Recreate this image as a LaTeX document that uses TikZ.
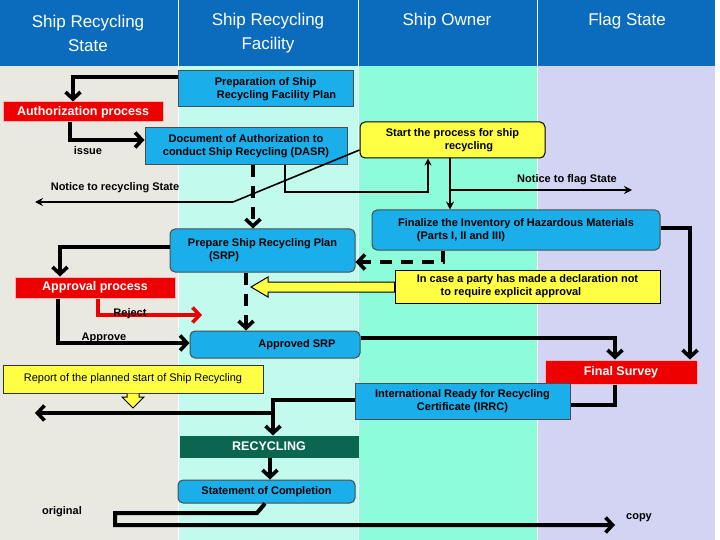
\documentclass[tikz,border=0pt]{standalone}
\usepackage{fontspec}
\setmainfont{Liberation Sans}
\usetikzlibrary{arrows.meta,positioning}
\definecolor{headblue}{HTML}{0B6BBD}
\definecolor{boxblue}{HTML}{1AAEEA}
\definecolor{boxred}{HTML}{EE0000}
\definecolor{boxyel}{HTML}{FFFF44}
\definecolor{recgreen}{HTML}{0B6650}
\definecolor{colA}{HTML}{E9E9E2}
\definecolor{colB}{HTML}{C2FBEE}
\definecolor{colC}{HTML}{8CFCDA}
\definecolor{colD}{HTML}{D3D3F3}
\def\lw{4pt}
\def\tip{{Straight Barb[length=7pt,width=15pt,line width=3.6pt]}}

\tikzset{
  box/.style={draw=black!70, line width=1pt, font=\fontsize{11}{13}\selectfont\bfseries, align=center, inner sep=1pt},
  bluebox/.style={box, fill=boxblue},
  bluernd/.style={bluebox, rounded corners=5pt},
  redbox/.style={box, fill=boxred, draw=white!70!red, text=white, font=\fontsize{12.5}{14}\selectfont\bfseries},
  yelbox/.style={box, fill=boxyel, draw=black},
  flow/.style={line width=\lw, -\tip},
  flowdash/.style={flow, dash pattern=on 12pt off 9pt},
  lab/.style={font=\fontsize{11}{13}\selectfont\bfseries, inner sep=0pt},
  head/.style={text=white, font=\fontsize{17}{24}\selectfont, align=center}
}

\begin{document}
\begin{tikzpicture}[x=1pt, y=-1pt]
\useasboundingbox (0,0) rectangle (720,540);
% lanes
\fill[white] (0,0) rectangle (720,540);
\fill[colA] (0,66) rectangle (178,540);
\fill[colB] (178,66) rectangle (358,540);
\fill[colC] (358,66) rectangle (537,540);
\fill[colD] (537,66) rectangle (715,540);
\fill[headblue] (0,0) rectangle (715,66);
\foreach \xs in {178,358,537,715}
  \draw[white, line width=1pt] (\xs,0) -- (\xs,540);
\node[head] at (88,33) {Ship Recycling\\State};
\node[head] at (268,33) {Ship Recycling\\Facility};
\node[head] at (447,21) {Ship Owner};
\node[head] at (627,21) {Flag State};

% boxes
\node[bluebox, minimum width=175pt, minimum height=36pt] (prep) at (265.5,89) {Preparation of Ship\\\hspace*{2em}Recycling Facility Plan};
\node[redbox, minimum width=160pt, minimum height=20pt] (auth) at (83,112) {Authorization process};
\node[bluebox, minimum width=202pt, minimum height=37pt] (dasr) at (246,146.5) {Document of Authorization to\\conduct Ship Recycling (DASR)};
\node[yelbox, rounded corners=5pt, minimum width=185pt, minimum height=36pt] (start) at (452.5,140) {Start the process for ship\\\hspace*{3em}recycling};
\node[bluernd, minimum width=185pt, minimum height=43pt] (srp) at (262.5,250.5) {Prepare Ship Recycling Plan\\\hspace*{-7em}(SRP)};
\node[bluernd, minimum width=288pt, minimum height=40pt] (ihm) at (516,230) {Finalize the Inventory of Hazardous Materials\\\hspace*{-10em}(Parts I, II and III)};
\node[yelbox, minimum width=265pt, minimum height=33pt] (decl) at (527.5,286.5) {In case a party has made a declaration not\\\hspace*{-3em}to require explicit approval};
\node[redbox, minimum width=160pt, minimum height=21pt] (appr) at (95,287.5) {Approval process};
\node[bluernd, minimum width=170pt, minimum height=27pt] (asrp) at (275,344.5) {\hspace*{4em}Approved SRP};
\node[yelbox, draw=black!80, font=\fontsize{11}{13}\selectfont, minimum width=260pt, minimum height=28pt] (rep) at (133,379) {Report of the planned start of Ship Recycling};
\node[redbox, minimum width=152pt, minimum height=24pt] (fin) at (621,372) {Final Survey};
\node[bluebox, minimum width=215pt, minimum height=36pt] (irrc) at (462.5,401) {International Ready for Recycling\\Certificate (IRRC)};
\node[box, fill=recgreen, draw=recgreen, text=white, font=\fontsize{12.5}{14}\selectfont\bfseries, minimum width=178pt, minimum height=21pt] (rec) at (269,446.5) {RECYCLING};
\node[bluernd, minimum width=177pt, minimum height=23pt] (soc) at (266.5,491.5) {Statement of Completion};

% connectors
\draw[flow] (prep.west |- 0,77) -| (auth.north -| 73,0);
\draw[flow] (auth.south -| 70,0) |- (dasr.west |- 0,140);
\node[lab] at (88,151) {issue};
\coordinate (ntr) at (233,202);
\draw[line width=1.6pt] (start.west |- 0,150) -- (ntr);
\draw[line width=2.6pt, -{Stealth[length=8pt,width=8pt]}] (ntr) -- (35,202);
\node[lab] at (115,188) {Notice to recycling State};
\draw[line width=1.6pt, -{Stealth[length=7pt,width=7pt]}] (dasr.south -| 285,0) |- (428,192) -- (start.south -| 428,0);
\draw[line width=2pt, -{Stealth[length=8pt,width=8pt]}] (start.south -| 450,0) -- (ihm.north -| 450,0);
\draw[line width=2.4pt, -{Stealth[length=8pt,width=8pt]}] (450,190) -- (632,190);
\node[lab] at (567,180) {Notice to flag State};
\draw[flowdash] (dasr.south -| 253,0) -- (srp.north -| 253,0);
\draw[flow] (srp.west |- 0,247) -| (appr.north -| 60,0);
\draw[flowdash] (ihm.south -| 443,0) |- (srp.east |- 0,262);
\draw[flowdash] (srp.south -| 246,0) -- (asrp.north -| 246,0);
\draw[fill=boxyel, draw=black, line width=1pt] (decl.west |- 0,282) -- (268,282) -- (268,277) -- (251,287) -- (268,297) -- (268,292) -- (decl.west |- 0,292) -- cycle;
\draw[flow] (ihm.east |- 0,228) -- (690,228) -- (fin.north -| 690,0);
\draw[line width=\lw, boxred, -\tip] (appr.south -| 98,0) |- (202,315);
\node[lab] at (130,314) {Reject};
\draw[flow] (appr.south -| 58,0) |- (asrp.west |- 0,343);
\node[lab] at (104,338) {Approve};
\draw[flow] (asrp.east |- 0,338) -| (fin.north -| 615,0);
\draw[line width=\lw] (fin.south -| 615,0) |- (irrc.east |- 0,405);
\draw[flow] (irrc.west |- 0,400) -| (rec.north -| 273,0);
\draw[flow] (273,413) -- (35,413);
\draw[fill=boxyel, draw=black, line width=1pt] (rep.south -| 127,0) -- (127,397) -- (122,397) -- (133,408) -- (144,397) -- (139,397) -- (rep.south -| 139,0);
\draw[flow] (rec.south -| 270,0) -- (soc.north -| 270,0);
\draw[flow] (soc.south -| 265,0) -- (257,513) -- (115,513) -- (115,525) -- (615,525);
\node[lab] at (62,512) {original};
\node[lab] at (639,518) {copy};
\end{tikzpicture}
\end{document}
